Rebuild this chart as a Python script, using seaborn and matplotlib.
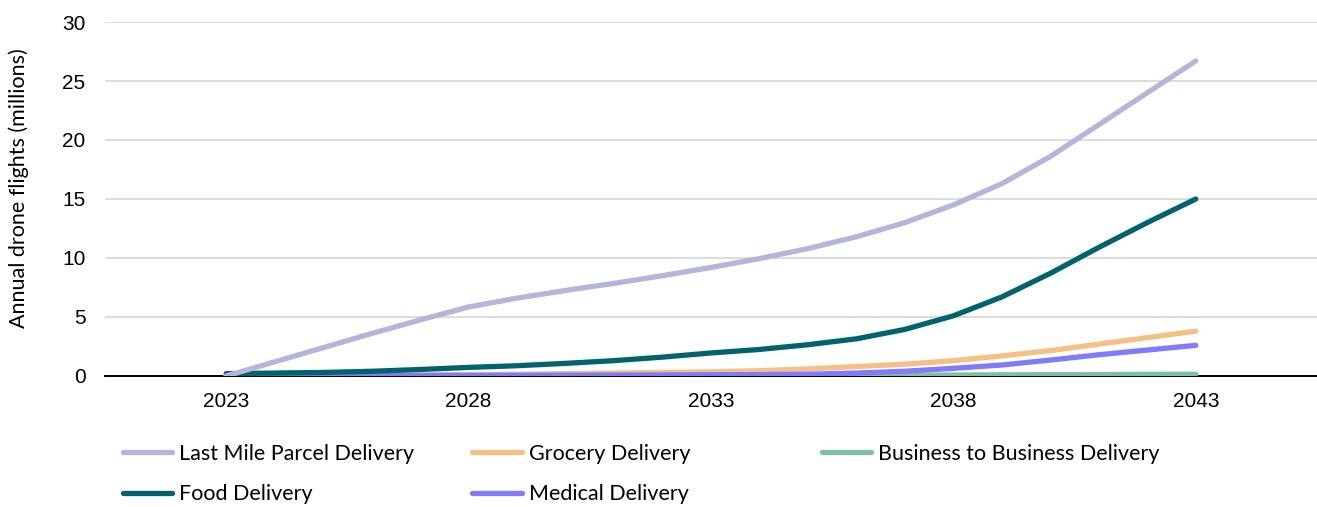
import numpy as np
import pandas as pd
import matplotlib
matplotlib.use("Agg")
import matplotlib.pyplot as plt
import seaborn as sns

years = list(range(2023, 2044))
last_mile = [0.0, 1.2, 2.4, 3.6, 4.75, 5.85, 6.6, 7.25, 7.85, 8.5, 9.2,
             9.95, 10.8, 11.8, 13.0, 14.5, 16.3, 18.6, 21.3, 24.0, 26.7]
food = [0.2, 0.25, 0.3, 0.4, 0.55, 0.73, 0.87, 1.07, 1.3, 1.6, 1.95,
        2.25, 2.65, 3.15, 3.95, 5.1, 6.7, 8.7, 10.9, 13.0, 15.0]
grocery = [0.0, 0.02, 0.05, 0.08, 0.1, 0.12, 0.15, 0.2, 0.25, 0.3, 0.35,
           0.45, 0.6, 0.8, 1.0, 1.3, 1.7, 2.15, 2.7, 3.25, 3.8]
medical = [0.0, 0.01, 0.02, 0.03, 0.04, 0.05, 0.06, 0.07, 0.08, 0.09, 0.1,
           0.12, 0.15, 0.25, 0.4, 0.65, 0.93, 1.35, 1.8, 2.2, 2.6]
b2b = [0.0, 0.0, 0.0, 0.0, 0.0, 0.01, 0.01, 0.02, 0.02, 0.03, 0.03,
       0.04, 0.05, 0.06, 0.07, 0.08, 0.1, 0.11, 0.12, 0.14, 0.15]

series_names = ["Last Mile Parcel Delivery", "Grocery Delivery",
                "Business to Business Delivery", "Food Delivery", "Medical Delivery"]
series_values = [last_mile, grocery, b2b, food, medical]
colors = {"Last Mile Parcel Delivery": "#B5B5DB",
          "Grocery Delivery": "#F6BF85",
          "Business to Business Delivery": "#7DBFA7",
          "Food Delivery": "#03636D",
          "Medical Delivery": "#7F7BFB"}
x_ticks = [2023, 2028, 2033, 2038, 2043]
y_ticks = [0, 5, 10, 15, 20, 25, 30]

df = pd.DataFrame({
    "year": years * len(series_names),
    "value": [v for vals in series_values for v in vals],
    "series": [n for n in series_names for _ in years],
})

sns.set_theme(style="white")
plt.rcParams["font.family"] = ["Liberation Sans", "DejaVu Sans"]

fig = plt.figure(figsize=(13.17, 5.07), dpi=100)
ax = fig.add_axes([0.0797, 0.2584, 0.9203, 0.6982])

draw_order = ["Business to Business Delivery", "Grocery Delivery", "Medical Delivery",
              "Food Delivery", "Last Mile Parcel Delivery"]
for name in draw_order:
    sub = df[df["series"] == name]
    sns.lineplot(data=sub, x="year", y="value", ax=ax, color=colors[name],
                 linewidth=3.8, label=name, solid_capstyle="round",
                 solid_joinstyle="round", zorder=3)

ax.set_xlim(2020.5, 2045.5)
ax.set_ylim(0, 30)
ax.set_xticks(x_ticks)
ax.set_xticklabels([str(t) for t in x_ticks])
ax.set_yticks(y_ticks)
ax.set_yticklabels([str(t) for t in y_ticks])
ax.tick_params(axis="both", length=0, labelsize=15, colors="#000000")
ax.tick_params(axis="x", pad=11.5)
ax.tick_params(axis="y", pad=14)
ax.grid(axis="y", color="#D9D9D9", linewidth=1.3, zorder=0)
ax.grid(axis="x", visible=False)
for s in ["top", "right", "left"]:
    ax.spines[s].set_visible(False)
ax.spines["bottom"].set_color("#000000")
ax.spines["bottom"].set_linewidth(1.4)
ax.spines["bottom"].set_zorder(2)
ax.set_xlabel("")
ax.set_ylabel("Annual drone flights (millions)", fontsize=15.5,
              family=["Lato", "DejaVu Sans"], color="#000000")
ax.yaxis.set_label_coords(-0.0627, 0.53)

handles, labels = ax.get_legend_handles_labels()
ax.get_legend().remove()
hmap = dict(zip(labels, handles))

leg_kw = dict(frameon=False, handlelength=2.28, handletextpad=0.35,
              labelspacing=0.95, borderaxespad=0, borderpad=0,
              prop={"family": ["Lato", "DejaVu Sans"], "size": 15.5})
columns = [(["Last Mile Parcel Delivery", "Food Delivery"], 122.5 / 1317),
           (["Grocery Delivery", "Medical Delivery"], 472.5 / 1317),
           (["Business to Business Delivery"], 821.5 / 1317)]
for names, xpos in columns:
    leg = fig.legend([hmap[n] for n in names], names, loc="upper left",
                     bbox_to_anchor=(xpos, 1 - 444 / 507),
                     bbox_transform=fig.transFigure, **leg_kw)
    for line in leg.get_lines():
        line.set_linewidth(3.8)
        line.set_solid_capstyle("round")
    for t in leg.get_texts():
        t.set_color("#000000")

fig.savefig("out.png", dpi=100)
